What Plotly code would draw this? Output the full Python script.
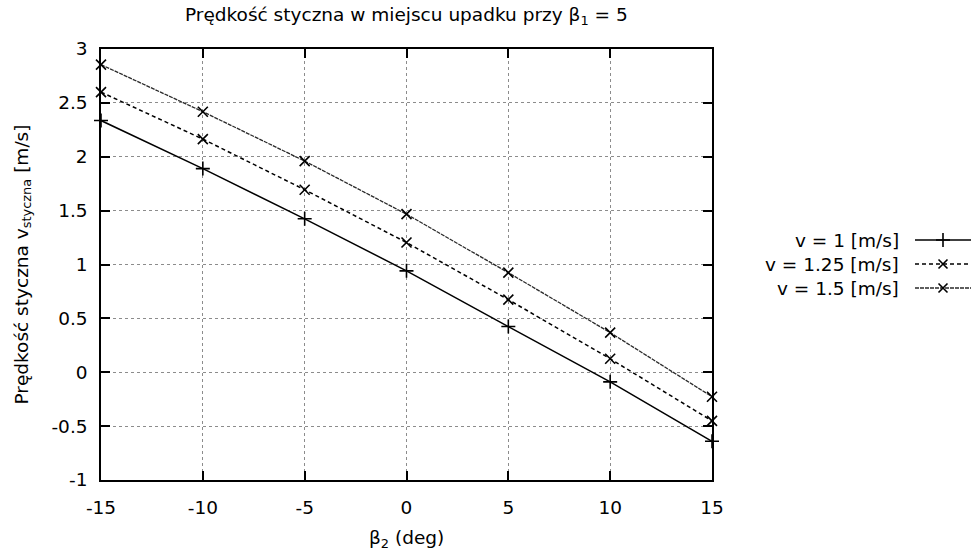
import plotly.graph_objects as go

# Data
beta2 = [-15, -10, -5, 0, 5, 10, 15]
v_1 = [2.336, 1.89, 1.424, 0.941, 0.424, -0.089, -0.641]
v_125 = [2.60, 2.164, 1.694, 1.204, 0.674, 0.125, -0.451]
v_15 = [2.855, 2.418, 1.96, 1.467, 0.924, 0.368, -0.227]
series_names = ["v = 1 [m/s]", "v = 1.25 [m/s]", "v = 1.5 [m/s]"]
x_ticks = [-15, -10, -5, 0, 5, 10, 15]
y_ticks = [-1, -0.5, 0, 0.5, 1, 1.5, 2, 2.5, 3]
y_tick_text = ["-1", "-0.5", "0", "0.5", "1", "1.5", "2", "2.5", "3"]

W, H = 975, 554
FONT = "DejaVu Sans"
FS = 18.5

# pixel layout
PL, PR, PT, PB = 101, 712, 49, 480

styles = [
    dict(line=dict(color="black", width=1.5, dash="solid"), symbol="cross-thin"),
    dict(line=dict(color="black", width=1.5, dash="4px,3px"), symbol="x-thin"),
    dict(line=dict(color="#2a2a2a", width=1.3, dash="4px,1px"), symbol="x-thin"),
]
data = [v_1, v_125, v_15]

fig = go.Figure()
for vals, st in zip(data, styles):
    fig.add_trace(go.Scatter(
        x=beta2, y=vals, mode="lines+markers",
        line=st["line"],
        marker=dict(symbol=st["symbol"], size=10, color="black",
                    line=dict(width=1.6, color="black")),
        showlegend=False, cliponaxis=False, xaxis="x", yaxis="y"))

# custom legend samples (text left, sample right) on auxiliary axes
for i, (name, st) in enumerate(zip(series_names, styles)):
    row = i + 1
    fig.add_trace(go.Scatter(
        x=[0, 0.5, 1], y=[row, row, row], mode="lines",
        line=st["line"], showlegend=False, xaxis="x2", yaxis="y2",
        hoverinfo="skip"))
    fig.add_trace(go.Scatter(
        x=[0.5], y=[row], mode="markers",
        marker=dict(symbol=st["symbol"], size=10 if i == 0 else 9, color="black",
                    line=dict(width=1.6, color="black")),
        showlegend=False, xaxis="x2", yaxis="y2", hoverinfo="skip", cliponaxis=False))
    fig.add_annotation(text=name, xref="paper", yref="y2", x=901 / W, y=row,
                       xanchor="right", yanchor="middle", showarrow=False,
                       font=dict(family=FONT, size=FS, color="black"))

axis_common = dict(
    showline=True, linecolor="black", linewidth=1.5, mirror="ticks",
    ticks="inside", ticklen=9, tickwidth=1.5, tickcolor="black",
    showgrid=True, gridcolor="#8c8c8c", gridwidth=1, griddash="dot",
    zeroline=False, tickfont=dict(family=FONT, size=FS, color="black"),
)

fig.update_layout(
    width=W, height=H,
    margin=dict(l=0, r=0, t=0, b=0),
    paper_bgcolor="white", plot_bgcolor="white",
    font=dict(family=FONT, size=FS, color="black"),
    xaxis=dict(domain=[PL / W, PR / W], range=[-15, 15], tickvals=x_ticks,
               ticktext=[str(t) for t in x_ticks], automargin=False,
               ticklabelstandoff=10, **axis_common),
    yaxis=dict(domain=[1 - PB / H, 1 - PT / H], range=[-1, 3], tickvals=y_ticks,
               ticktext=y_tick_text, automargin=False,
               ticklabelstandoff=8, **axis_common),
    xaxis2=dict(domain=[915 / W, 971 / W], range=[0, 1], visible=False, anchor="y2"),
    yaxis2=dict(domain=[1 - 300 / H, 1 - 228 / H], range=[3.5, 0.5], visible=False, anchor="x2"),
    showlegend=False,
)

# title and axis titles
fig.add_annotation(text="Prędkość styczna w miejscu upadku przy β<sub>1</sub> = 5",
                   xref="paper", yref="paper", x=(PL + PR) / 2 / W, y=1 - 16 / H,
                   xanchor="center", yanchor="middle", showarrow=False,
                   font=dict(family=FONT, size=FS, color="black"))
fig.add_annotation(text="β<sub>2</sub> (deg)",
                   xref="paper", yref="paper", x=(PL + PR) / 2 / W, y=1 - 539 / H,
                   xanchor="center", yanchor="middle", showarrow=False,
                   font=dict(family=FONT, size=FS, color="black"))
fig.add_annotation(text="Prędkość styczna v<sub>styczna</sub> [m/s]",
                   xref="paper", yref="paper", x=22 / W, y=1 - (PT + PB) / 2 / H,
                   xanchor="center", yanchor="middle", showarrow=False, textangle=-90,
                   font=dict(family=FONT, size=FS, color="black"))

fig.write_html("out.html")
